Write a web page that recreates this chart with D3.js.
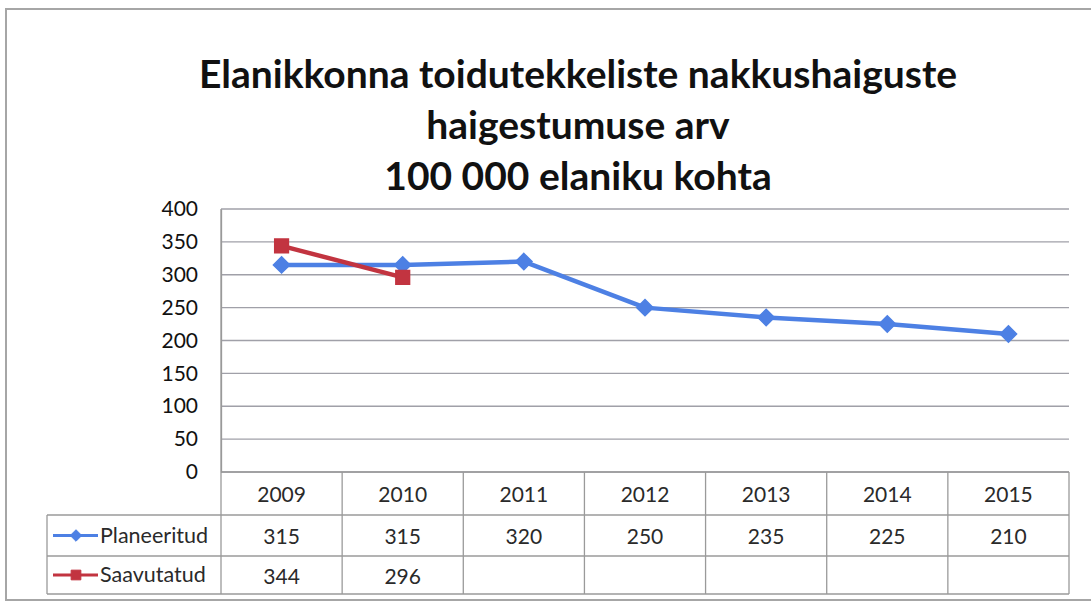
<!DOCTYPE html>
<html>
<head>
<meta charset="utf-8">
<script src="https://cdn.jsdelivr.net/npm/d3@7"></script>
<style>
  body { margin: 0; background: #fff; }
  svg { display: block; }
</style>
</head>
<body>
<div id="chart"></div>
<script>

var years       = ["2009", "2010", "2011", "2012", "2013", "2014", "2015"];
var planeeritud = [315, 315, 320, 250, 235, 225, 210];
var saavutatud  = [344, 296, null, null, null, null, null];
var yTicks      = [0, 50, 100, 150, 200, 250, 300, 350, 400];
var titleLines  = ["Elanikkonna toidutekkeliste nakkushaiguste", "haigestumuse arv", "100 000 elaniku kohta"];

(function () {

var width  = 1091;
var height = 602;
var font   = "Lato, 'Open Sans', sans-serif";

var plotLeft   = 221;
var plotRight  = 1069;
var plotTop    = 209;
var plotBottom = 472;
var rowH       = [43, 41, 38];

var blue = "#4d80e4";
var red  = "#c23440";

var svg = d3.select("#chart").append("svg")
    .attr("width", width)
    .attr("height", height);

// outer frame
svg.append("rect")
    .attr("x", 6).attr("y", 9)
    .attr("width", width + 10).attr("height", 591)
    .attr("fill", "none")
    .attr("stroke", "#a6a6a6")
    .attr("stroke-width", 2);

// title
svg.append("text")
    .attr("text-anchor", "middle")
    .attr("font-family", font)
    .attr("font-weight", "bold")
    .attr("font-size", 39)
    .attr("fill", "#111")
    .selectAll("tspan")
    .data(titleLines)
    .enter().append("tspan")
    .attr("x", 578)
    .attr("y", function (d, i) { return 88 + i * 51; })
    .text(function (d) { return d; });

var x = d3.scaleBand().domain(years).range([plotLeft, plotRight]);
var y = d3.scaleLinear().domain([0, 400]).range([plotBottom, plotTop]);

// gridlines
svg.append("g")
    .selectAll("line")
    .data(yTicks)
    .enter().append("line")
    .attr("x1", plotLeft).attr("x2", plotRight)
    .attr("y1", function (d) { return y(d); })
    .attr("y2", function (d) { return y(d); })
    .attr("stroke", "#a0a0a8")
    .attr("stroke-width", 1.3);

// y axis
var yAxis = svg.append("g")
    .attr("transform", "translate(" + plotLeft + ",0)")
    .call(d3.axisLeft(y).tickValues(yTicks).tickSize(0).tickPadding(23));
yAxis.select(".domain").attr("stroke", "#9a9a9a").attr("stroke-width", 1.3);
yAxis.selectAll("text")
    .attr("font-family", font)
    .attr("font-size", 21)
    .attr("fill", "#111");

// table
var tableBottom = plotBottom + rowH[0] + rowH[1] + rowH[2];
var legendLeft = 47;
var rowTops = [plotBottom, plotBottom + rowH[0], plotBottom + rowH[0] + rowH[1], tableBottom];
var grid = svg.append("g").attr("stroke", "#9a9a9a").attr("stroke-width", 1.3);

grid.selectAll(".hline")
    .data(rowTops)
    .enter().append("line")
    .attr("x1", function (d, i) { return i === 0 ? plotLeft : legendLeft; })
    .attr("x2", plotRight)
    .attr("y1", function (d) { return d; })
    .attr("y2", function (d) { return d; });

grid.selectAll(".vline")
    .data(years.map(function (d) { return x(d); }).concat([plotRight]))
    .enter().append("line")
    .attr("x1", function (d) { return d; })
    .attr("x2", function (d) { return d; })
    .attr("y1", function (d, i) { return i === 0 ? plotTop : plotBottom; })
    .attr("y2", tableBottom);

grid.append("line")
    .attr("x1", legendLeft).attr("x2", legendLeft)
    .attr("y1", rowTops[1]).attr("y2", tableBottom);

function cellText(sel, yPos) {
    return sel.attr("font-family", font)
        .attr("font-size", 21)
        .attr("fill", "#2a2a2a")
        .attr("text-anchor", "middle")
        .attr("y", yPos);
}

cellText(svg.append("g").selectAll("text").data(years).enter().append("text"), plotBottom + 30)
    .attr("x", function (d) { return x(d) + x.bandwidth() / 2; })
    .text(function (d) { return d; });

cellText(svg.append("g").selectAll("text").data(planeeritud).enter().append("text"), rowTops[1] + 29)
    .attr("x", function (d, i) { return x(years[i]) + x.bandwidth() / 2; })
    .text(function (d) { return d; });

cellText(svg.append("g").selectAll("text").data(saavutatud).enter().append("text"), rowTops[2] + 28)
    .attr("x", function (d, i) { return x(years[i]) + x.bandwidth() / 2; })
    .text(function (d) { return d === null ? "" : d; });

// series
var series = [
    { name: "Planeeritud", values: planeeritud, color: blue, symbol: d3.symbolDiamond2, size: 170 },
    { name: "Saavutatud",  values: saavutatud,  color: red,  symbol: d3.symbolSquare2,  size: 240 }
];

var line = d3.line()
    .defined(function (d) { return d !== null; })
    .x(function (d, i) { return x(years[i]) + x.bandwidth() / 2; })
    .y(function (d) { return y(d); });

series.forEach(function (s, k) {
    svg.append("path")
        .attr("d", line(s.values))
        .attr("fill", "none")
        .attr("stroke", s.color)
        .attr("stroke-width", 4.5)
        .attr("stroke-linejoin", "round");

    svg.append("g").selectAll("path")
        .data(s.values.map(function (v, i) { return { v: v, i: i }; }).filter(function (d) { return d.v !== null; }))
        .enter().append("path")
        .attr("transform", function (d) {
            return "translate(" + (x(years[d.i]) + x.bandwidth() / 2) + "," + y(d.v) + ")";
        })
        .attr("d", d3.symbol().type(s.symbol).size(s.size))
        .attr("fill", s.color)
        .attr("stroke", s.color)
        .attr("stroke-width", 1.5);

    // legend key in table
    var ly = rowTops[k + 1] + rowH[k + 1] / 2;
    svg.append("line")
        .attr("x1", 53).attr("x2", 98)
        .attr("y1", ly).attr("y2", ly)
        .attr("stroke", s.color)
        .attr("stroke-width", 3);
    svg.append("path")
        .attr("transform", "translate(76," + ly + ")")
        .attr("d", d3.symbol().type(s.symbol).size(s.size * 0.5))
        .attr("fill", s.color)
        .attr("stroke", s.color);
    svg.append("text")
        .attr("x", 100).attr("y", ly + 7)
        .attr("font-family", font)
        .attr("font-size", 21.5)
        .attr("fill", "#2a2a2a")
        .text(s.name);
});

})();

</script>
</body>
</html>
